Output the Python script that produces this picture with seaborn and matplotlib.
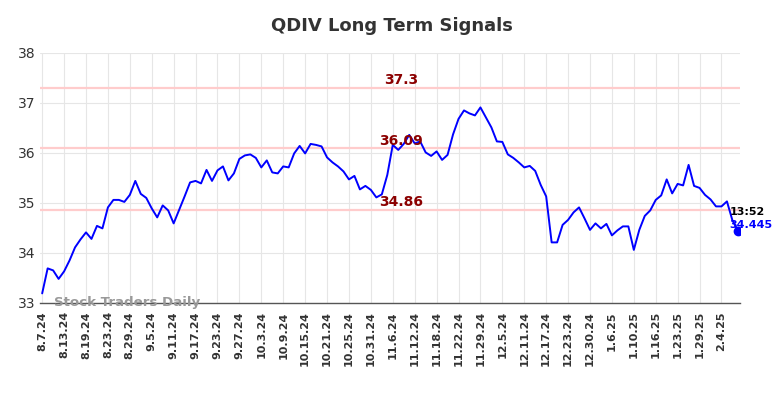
import numpy as np
import pandas as pd
import matplotlib
matplotlib.use("Agg")
import matplotlib.pyplot as plt
import seaborn as sns

tick_labels = ["8.7.24", "8.13.24", "8.19.24", "8.23.24", "8.29.24", "9.5.24", "9.11.24",
               "9.17.24", "9.23.24", "9.27.24", "10.3.24", "10.9.24", "10.15.24", "10.21.24",
               "10.25.24", "10.31.24", "11.6.24", "11.12.24", "11.18.24", "11.22.24", "11.29.24",
               "12.5.24", "12.11.24", "12.17.24", "12.23.24", "12.30.24", "1.6.25", "1.10.25",
               "1.16.25", "1.23.25", "1.29.25", "2.4.25"]

prices = [33.19, 33.69, 33.65, 33.48, 33.63, 33.85, 34.11, 34.27, 34.41, 34.28,
          34.54, 34.49, 34.91, 35.06, 35.06, 35.02, 35.16, 35.44, 35.18, 35.10,
          34.89, 34.71, 34.95, 34.85, 34.59, 34.86, 35.13, 35.41, 35.44, 35.39,
          35.66, 35.44, 35.65, 35.73, 35.45, 35.59, 35.88, 35.95, 35.97, 35.90,
          35.71, 35.85, 35.61, 35.59, 35.73, 35.71, 35.99, 36.14, 35.99, 36.18,
          36.16, 36.13, 35.91, 35.81, 35.73, 35.63, 35.47, 35.54, 35.27, 35.34,
          35.26, 35.11, 35.17, 35.56, 36.16, 36.06, 36.18, 36.36, 36.19, 36.23,
          36.01, 35.94, 36.03, 35.86, 35.96, 36.37, 36.68, 36.85, 36.79, 36.75,
          36.91, 36.71, 36.51, 36.23, 36.22, 35.97, 35.90, 35.81, 35.71, 35.74,
          35.64, 35.36, 35.13, 34.21, 34.21, 34.56, 34.66, 34.81, 34.91, 34.69,
          34.46, 34.59, 34.49, 34.58, 34.35, 34.45, 34.53, 34.53, 34.06, 34.46,
          34.74, 34.85, 35.06, 35.15, 35.47, 35.19, 35.38, 35.35, 35.76, 35.34,
          35.30, 35.16, 35.07, 34.93, 34.93, 35.03, 34.65, 34.445]

levels = [37.3, 36.09, 34.86]
level_labels = ["37.3", "36.09", "34.86"]
last_time = "13:52"
last_label = "34.445"

df = pd.DataFrame({"idx": np.arange(len(prices)), "price": prices})

sns.set_style("whitegrid", {"grid.color": "#e6e6e6"})
plt.rcParams['font.family'] = ['DejaVu Sans']

fig = plt.figure(figsize=(7.84, 3.98), dpi=100)
ax = fig.add_axes([0.051, 0.239, 0.893, 0.628])

for lv, lb in zip(levels, level_labels):
    ax.axhline(lv, color="#ffcccc", lw=1.6, zorder=1)
    ax.text(65.5, lv + 0.15, lb, color="#8b0000", fontsize=10, fontweight="bold",
            ha="center", va="center", zorder=3)

sns.lineplot(data=df, x="idx", y="price", color="#0000ff", lw=1.4, ax=ax, zorder=2)
ax.plot(df["idx"].iloc[-1], df["price"].iloc[-1], "o", color="#0000ff", ms=6, zorder=4)

ax.text(df["idx"].iloc[-1] - 1.5, df["price"].iloc[-1] + 0.38, last_time, color="black",
        fontsize=8, fontweight="bold", ha="left", va="center")
ax.text(df["idx"].iloc[-1] - 1.5, df["price"].iloc[-1] + 0.12, last_label, color="#0000ff",
        fontsize=8, fontweight="bold", ha="left", va="center")

ax.text(2.2, 33.0, "Stock Traders Daily", color="#999999", fontsize=9.6,
        fontweight="bold", ha="left", va="center", zorder=5)

ax.set_xlim(-0.4, 127.4)
ax.set_ylim(33, 38)
ax.set_yticks([33, 34, 35, 36, 37, 38])
ax.set_xticks(np.arange(0, 4 * len(tick_labels), 4))
ax.set_xticklabels(tick_labels, rotation=90, fontsize=8, fontweight="bold", color="#333333")
ax.tick_params(axis="y", labelsize=10, colors="#333333", length=0)
ax.tick_params(axis="x", length=0, pad=6)
ax.set_xlabel("")
ax.set_ylabel("")
for s in ["top", "right", "left"]:
    ax.spines[s].set_visible(False)
ax.spines["bottom"].set_color("#555555")
ax.spines["bottom"].set_linewidth(1.0)

fig.text(0.5, 0.935, "QDIV Long Term Signals", ha="center", va="center", fontsize=13,
         fontweight="bold", color="#333333")

fig.savefig("out.png", dpi=100)
